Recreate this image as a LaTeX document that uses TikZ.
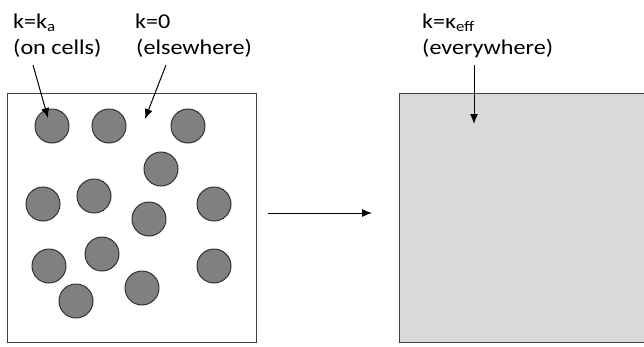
\documentclass[tikz,border=0pt]{standalone}
\usepackage{fontspec}
\setmainfont{Carlito}[FakeStretch=1.15]
\usetikzlibrary{arrows.meta}
\begin{document}
\begin{tikzpicture}[x=1pt,y=-1pt,
  cell/.style={circle,draw=black!80,line width=1pt,fill=black!50,minimum size=34pt,inner sep=0pt},
  lbl/.style={anchor=base west,inner sep=0pt,font=\fontsize{21}{23}\selectfont},
  arr/.style={-{Latex[length=10pt,width=8pt]},line width=1pt},
  box/.style={draw=black!75,line width=1.3pt}]
\useasboundingbox (0,0) rectangle (644,346);
\begin{scope}
\clip (0,0) rectangle (644,346);
\node[box,minimum width=249pt,minimum height=249pt,inner sep=0pt,anchor=north west] (L) at (7,93) {};
\node[box,fill=black!15,minimum width=250pt,minimum height=249pt,inner sep=0pt,anchor=north west] (R) at (399,93) {};
\end{scope}
\node[cell] (c1) at (52,126) {};
\node[cell] (c2) at (109,126) {};
\node[cell] (c3) at (188,126) {};
\node[cell] (c4) at (161,169) {};
\node[cell] (c5) at (43,204) {};
\node[cell] (c6) at (94,196) {};
\node[cell] (c7) at (149,219) {};
\node[cell] (c8) at (214,204) {};
\node[cell] (c9) at (49,266) {};
\node[cell] (c10) at (102,254) {};
\node[cell] (c11) at (214,266) {};
\node[cell] (c12) at (76,301) {};
\node[cell] (c13) at (142,288) {};
\node[lbl] (t1) at (13,28) {k=k\textsubscript{a}};
\node[lbl] (t2) at (13,54) {(on cells)};
\node[lbl] (t3) at (135,28) {k=0};
\node[lbl] (t4) at (136,54) {(elsewhere)};
\node[lbl] (t5) at (422,28) {k=\char"03BA\textsubscript{eff}};
\node[lbl] (t6) at (422,54) {(everywhere)};
\coordinate (a1s) at (33,65);
\coordinate (a1e) at (48,118);
\coordinate (a2s) at (166,65);
\coordinate (a2e) at (145,119);
\coordinate (a3s) at (474,65);
\coordinate (a3e) at (474,124);
\coordinate (ms) at (268,213);
\coordinate (me) at (372,213);
\draw[arr] (a1s) -- (a1e);
\draw[arr] (a2s) -- (a2e);
\draw[arr] (a3s) -- (a3e);
\draw[arr] (ms) -- (me);
\end{tikzpicture}
\end{document}
